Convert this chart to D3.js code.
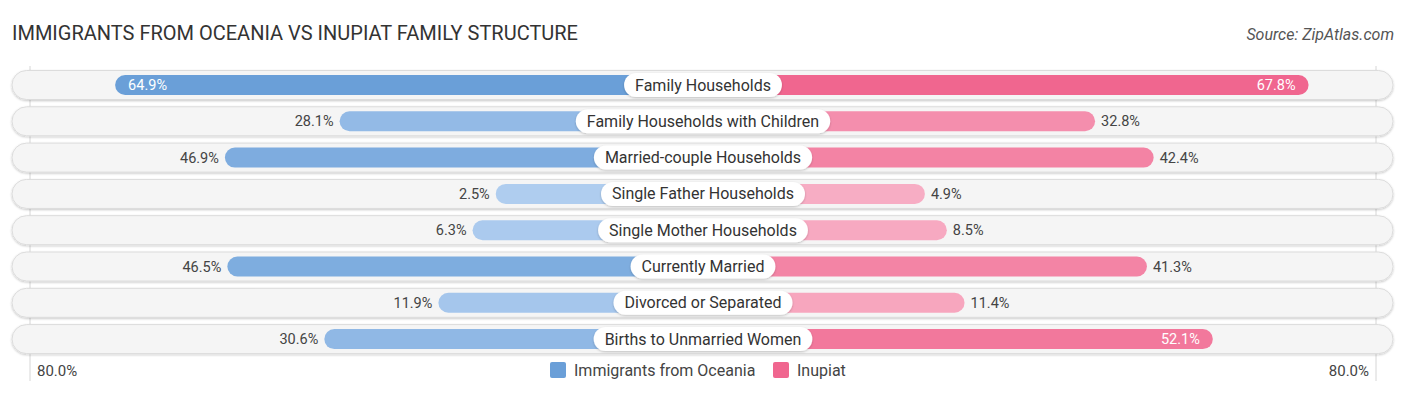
<!DOCTYPE html>
<html>
<head>
<meta charset="utf-8">
<script src="https://cdn.jsdelivr.net/npm/d3@7"></script>
<style>
  body { margin: 0; background: #fff; font-family: Roboto, "Noto Sans", sans-serif; }
</style>
</head>
<body>
<div id="chart"></div>
<script>
const categories = [
  "Family Households",
  "Family Households with Children",
  "Married-couple Households",
  "Single Father Households",
  "Single Mother Households",
  "Currently Married",
  "Divorced or Separated",
  "Births to Unmarried Women"
];
const oceania = [64.9, 28.1, 46.9, 2.5, 6.3, 46.5, 11.9, 30.6];
const inupiat = [67.8, 32.8, 42.4, 4.9, 8.5, 41.3, 11.4, 52.1];
const seriesNames = ["Immigrants from Oceania", "Inupiat"];
const axisMax = 80;

const width = 1406, height = 395;
const cx = 703;
const rowTop = 85, rowStep = 36.3;

const svg = d3.select("#chart").append("svg")
  .attr("width", width).attr("height", height);

const defs = svg.append("defs");
const f = defs.append("filter").attr("id", "shadow")
  .attr("x", "-10%").attr("y", "-30%").attr("width", "120%").attr("height", "170%");
f.append("feDropShadow").attr("dx", 0).attr("dy", 1).attr("stdDeviation", 1.2)
  .attr("flood-color", "#000").attr("flood-opacity", 0.22);

// bar length from center: offset + linear part
const len = d3.scaleLinear().domain([0, axisMax]).range([192, 680]);
const y = i => rowTop + i * rowStep;

const blue = d3.scaleLinear().domain([0, 65]).range(["#b2cff0", "#6a9fd8"]).clamp(true);
const pink = d3.scaleLinear().domain([0, 68]).range(["#f8b3c8", "#f0668f"]).clamp(true);

// title + source
svg.append("text").attr("x", 12).attr("y", 40)
  .attr("font-size", 20).attr("fill", "#333")
  .text("IMMIGRANTS FROM OCEANIA VS INUPIAT FAMILY STRUCTURE");
svg.append("text").attr("x", 1394).attr("y", 40).attr("text-anchor", "end")
  .attr("font-size", 16).attr("font-style", "italic").attr("fill", "#555")
  .text("Source: ZipAtlas.com");

// grid lines at 80%
[cx - 673, cx + 673].forEach(x => {
  svg.append("line").attr("x1", x).attr("x2", x).attr("y1", 66).attr("y2", 381)
    .attr("stroke", "#d6d6d6").attr("stroke-width", 1);
});

const rows = svg.append("g").selectAll("g").data(categories).join("g")
  .attr("transform", (d, i) => `translate(0,${y(i)})`);

rows.append("rect")
  .attr("x", 12).attr("y", -14.5).attr("width", 1381).attr("height", 29)
  .attr("rx", 14.5).attr("fill", "#f5f5f5").attr("stroke", "#dcdcdc").attr("stroke-width", 1)
  .attr("filter", "url(#shadow)");

// left bars
rows.append("rect")
  .attr("x", (d, i) => cx - len(oceania[i])).attr("y", -10)
  .attr("width", (d, i) => len(oceania[i])).attr("height", 20)
  .attr("rx", 10).attr("fill", (d, i) => blue(oceania[i]));
// right bars
rows.append("rect")
  .attr("x", cx).attr("y", -10)
  .attr("width", (d, i) => len(inupiat[i])).attr("height", 20)
  .attr("rx", 10).attr("fill", (d, i) => pink(inupiat[i]));

// value labels
const inside = v => v > 50;
rows.append("text")
  .attr("x", (d, i) => inside(oceania[i]) ? cx - len(oceania[i]) + 13 : cx - len(oceania[i]) - 6)
  .attr("y", 5).attr("font-size", 14.5)
  .attr("text-anchor", (d, i) => inside(oceania[i]) ? "start" : "end")
  .attr("fill", (d, i) => inside(oceania[i]) ? "#fff" : "#444")
  .text((d, i) => oceania[i].toFixed(1) + "%");
rows.append("text")
  .attr("x", (d, i) => inside(inupiat[i]) ? cx + len(inupiat[i]) - 13 : cx + len(inupiat[i]) + 6)
  .attr("y", 5).attr("font-size", 14.5)
  .attr("text-anchor", (d, i) => inside(inupiat[i]) ? "end" : "start")
  .attr("fill", (d, i) => inside(inupiat[i]) ? "#fff" : "#444")
  .text((d, i) => inupiat[i].toFixed(1) + "%");

// category pills
rows.each(function (d) {
  const g = d3.select(this);
  const t = g.append("text").attr("x", cx).attr("y", 5.5)
    .attr("text-anchor", "middle").attr("font-size", 16).attr("fill", "#333").text(d);
  const w = t.node().getComputedTextLength() + 22;
  g.insert("rect", "text:last-of-type")
    .attr("x", cx - w / 2).attr("y", -12).attr("width", w).attr("height", 24)
    .attr("rx", 12).attr("fill", "#fff").attr("filter", "url(#shadow)");
});

// axis labels
svg.append("text").attr("x", 37).attr("y", 376).attr("font-size", 15).attr("fill", "#444").text(axisMax.toFixed(1) + "%");
svg.append("text").attr("x", 1369).attr("y", 376).attr("text-anchor", "end")
  .attr("font-size", 15).attr("fill", "#444").text(axisMax.toFixed(1) + "%");

// legend
const legend = svg.append("g").attr("transform", "translate(550,362)");
const lx = [0, 223];
seriesNames.forEach((name, i) => {
  legend.append("rect").attr("x", lx[i]).attr("y", 0).attr("width", 16).attr("height", 16)
    .attr("rx", 2).attr("fill", i === 0 ? "#6a9fd8" : "#f0668f");
  legend.append("text").attr("x", lx[i] + 24).attr("y", 14).attr("font-size", 16)
    .attr("fill", "#444").text(name);
});
</script>
</body>
</html>
